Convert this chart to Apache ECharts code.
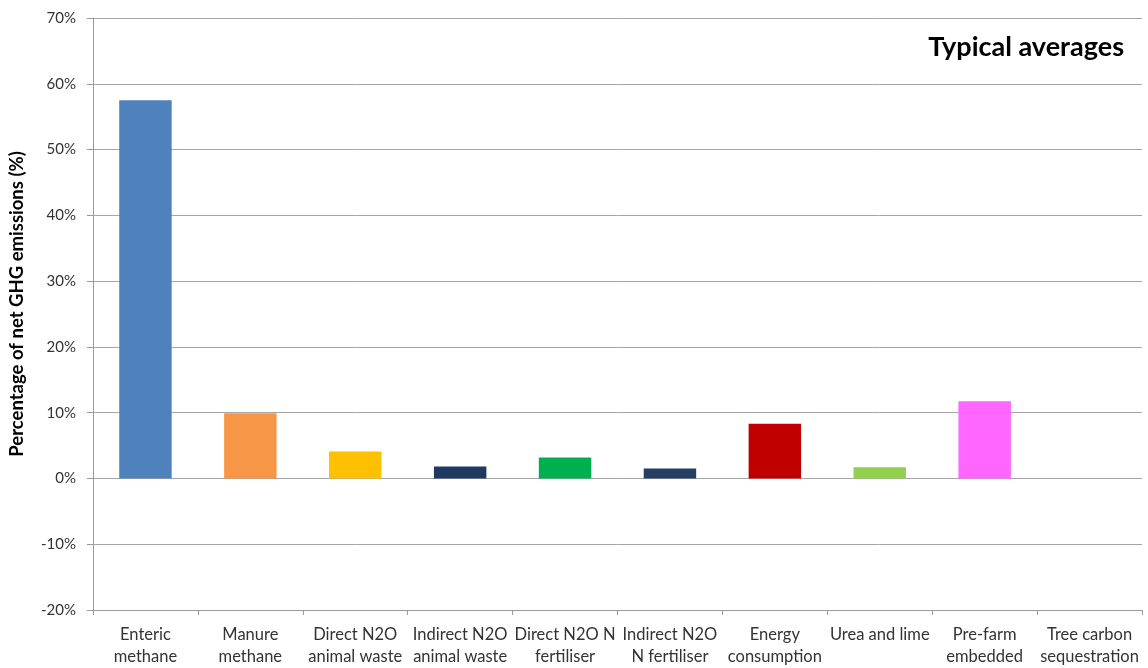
<!DOCTYPE html>
<html>
<head>
<meta charset="utf-8">
<script src="https://cdn.jsdelivr.net/npm/echarts@6/dist/echarts.min.js"></script>
<style>
html,body{margin:0;padding:0;background:#fff;}
#chart{width:1148px;height:668px;}
</style>
</head>
<body>
<div id="chart"></div>
<script>
const categories = ["Enteric\nmethane", "Manure\nmethane", "Direct N2O\nanimal waste", "Indirect N2O\nanimal waste", "Direct N2O N\nfertiliser", "Indirect N2O\nN fertiliser", "Energy\nconsumption", "Urea and lime", "Pre-farm\nembedded", "Tree carbon\nsequestration"];
const values = [57.5, 9.9, 4.1, 1.8, 3.2, 1.5, 8.3, 1.7, 11.75, 0];
const barColors = ["#4F81BD", "#F79646", "#FFC000", "#1F3A60", "#00B050", "#243F60", "#C00000", "#92D050", "#FF66FF", "#7F7F7F"];
const yTicks = { min: -20, max: 70, interval: 10 };
const titleText = "Typical averages";
const yAxisTitle = "Percentage of net GHG emissions (%)";

const chart = echarts.init(document.getElementById('chart'), null, { renderer: 'canvas' });
const font = "Lato, 'Open Sans', sans-serif";
chart.setOption({
  animation: false,
  backgroundColor: '#ffffff',
  title: {
    text: titleText,
    right: 19,
    top: 29,
    textStyle: { fontFamily: font, fontSize: 27, fontWeight: 'bold', color: '#000' }
  },
  grid: { left: 88, right: 6, top: 18, bottom: 55, containLabel: false },
  xAxis: {
    type: 'category',
    data: categories,
    axisLine: { onZero: false, lineStyle: { color: '#9a9a9a', width: 1 } },
    axisTick: { show: true, length: 5, lineStyle: { color: '#9a9a9a' } },
    axisLabel: { interval: 0, fontFamily: font, fontSize: 16.5, color: '#333', lineHeight: 22, margin: 14 }
  },
  yAxis: {
    type: 'value',
    min: yTicks.min, max: yTicks.max, interval: yTicks.interval,
    name: yAxisTitle,
    nameLocation: 'middle',
    nameGap: 66,
    nameTextStyle: { fontFamily: font, fontSize: 18.5, fontWeight: 'bold', color: '#000', padding: [0, 0, 0, 20] },
    axisLine: { show: true, lineStyle: { color: '#9a9a9a' } },
    axisTick: { show: true, length: 6, lineStyle: { color: '#9a9a9a' } },
    axisLabel: { formatter: '{value}%', fontFamily: font, fontSize: 15, color: '#333', margin: 17 },
    splitLine: { lineStyle: { color: '#a6a6a6', width: 1 } }
  },
  series: [{
    type: 'bar',
    barWidth: '50%',
    data: values.map((v, i) => ({ value: v, itemStyle: { color: barColors[i] } }))
  }]
});
</script>
</body>
</html>
